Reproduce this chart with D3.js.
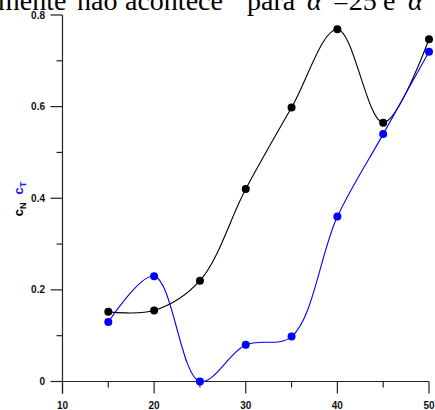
<!DOCTYPE html>
<html><head><meta charset="utf-8">
<script src="https://cdn.jsdelivr.net/npm/d3@7"></script>
<style>body{margin:0;background:#fff}svg{display:block}</style>
</head><body>
<svg id="c" width="435" height="410"></svg>
<script>
const alphaDeg = [15, 20, 25, 30, 35, 40, 45, 50];
const cN = [0.152, 0.155, 0.22, 0.42, 0.598, 0.769, 0.565, 0.747];
const cT = [0.13, 0.23, 0.0, 0.08, 0.098, 0.36, 0.54, 0.72];
const xTicks = [10, 20, 30, 40, 50];
const xMinor = [15, 25, 35, 45];
const yTicks = [0, 0.2, 0.4, 0.6, 0.8];
const yMinor = [0.1, 0.3, 0.5, 0.7];
const headerWords = ["mente", "não", "acontece", "para", "α", "=25", "e", "α"];
const headerWordX = [-2, 77, 125, 247, 307, 333, 383, 408];

const svg = d3.select("#c");
const x = d3.scaleLinear().domain([10, 50]).range([62.5, 429]);
const y = d3.scaleLinear().domain([0, 0.8]).range([381.5, 15]);
const axisColor = "#222";
const fontAxis = "bold 10px 'Liberation Sans', Arial, sans-serif";

// header text (cropped at top of the picture)
const hdr = svg.append("text").attr("y", 10)
  .attr("font-family", "'Liberation Serif','Times New Roman',serif")
  .attr("font-size", 28).attr("fill", "#000");
headerWords.forEach((w, i) => {
  hdr.append("tspan").attr("x", headerWordX[i])
    .attr("font-style", w === "α" ? "italic" : null).text(w);
});

// y axis
const gy = svg.append("g");
gy.append("line").attr("x1", x(10)).attr("x2", x(10)).attr("y1", y(0.8)).attr("y2", y(0) + 12).attr("stroke", axisColor).attr("stroke-width", 1.2);
gy.selectAll(".ymaj").data(yTicks).join("line").attr("class","ymaj")
  .attr("x1", x(10) - 12).attr("x2", x(10)).attr("y1", d => y(d)).attr("y2", d => y(d))
  .attr("stroke", axisColor).attr("stroke-width", 1.2);
gy.selectAll(".ymin").data(yMinor).join("line").attr("class","ymin")
  .attr("x1", x(10) - 6).attr("x2", x(10)).attr("y1", d => y(d)).attr("y2", d => y(d))
  .attr("stroke", axisColor).attr("stroke-width", 1.2);
gy.selectAll("text").data(yTicks).join("text")
  .attr("x", 45).attr("y", d => y(d) + 3.5).attr("text-anchor", "end")
  .style("font", fontAxis).attr("fill", "#111")
  .text(d => d === 0 ? "0" : d3.format(".1f")(d));

// x axis
const gx = svg.append("g");
gx.append("line").attr("x1", x(10)).attr("x2", x(50)).attr("y1", y(0)).attr("y2", y(0)).attr("stroke", axisColor).attr("stroke-width", 1.2);
gx.selectAll(".xmaj").data(xTicks).join("line").attr("class","xmaj")
  .attr("x1", d => x(d)).attr("x2", d => x(d)).attr("y1", y(0)).attr("y2", y(0) + 12)
  .attr("stroke", axisColor).attr("stroke-width", 1.2);
gx.selectAll(".xmin").data(xMinor).join("line").attr("class","xmin")
  .attr("x1", d => x(d)).attr("x2", d => x(d)).attr("y1", y(0)).attr("y2", y(0) + 6)
  .attr("stroke", axisColor).attr("stroke-width", 1.2);
gx.selectAll("text").data(xTicks).join("text")
  .attr("x", d => x(d)).attr("y", 409).attr("text-anchor", "middle")
  .style("font", fontAxis).attr("fill", "#111").text(d => d);

// y label
const lab = svg.append("text").attr("transform", "translate(23,199) rotate(-90)")
  .attr("text-anchor", "middle")
  .style("font", "bold 13px 'Liberation Sans', Arial, sans-serif");
lab.append("tspan").attr("fill", "#000").text("c");
lab.append("tspan").attr("fill", "#000").attr("font-size", 9).attr("dy", 3).text("N");
lab.append("tspan").attr("fill", "#1a1aff").attr("dx", 8).attr("dy", -3).text("c");
lab.append("tspan").attr("fill", "#1a1aff").attr("font-size", 9).attr("dy", 3).text("T");

const series = [
  {vals: cN, color: "#000"},
  {vals: cT, color: "#0000ff"}
];
const line = d3.line().x(d => x(d[0])).y(d => y(d[1])).curve(d3.curveCatmullRom.alpha(0.5));
series.forEach(s => {
  const pts = alphaDeg.map((a, i) => [a, s.vals[i]]);
  svg.append("path").attr("d", line(pts)).attr("fill", "none").attr("stroke", s.color).attr("stroke-width", 1.1);
  svg.append("g").selectAll("circle").data(pts).join("circle")
    .attr("cx", d => x(d[0])).attr("cy", d => y(d[1])).attr("r", 4).attr("fill", s.color);
});
</script>
</body></html>
